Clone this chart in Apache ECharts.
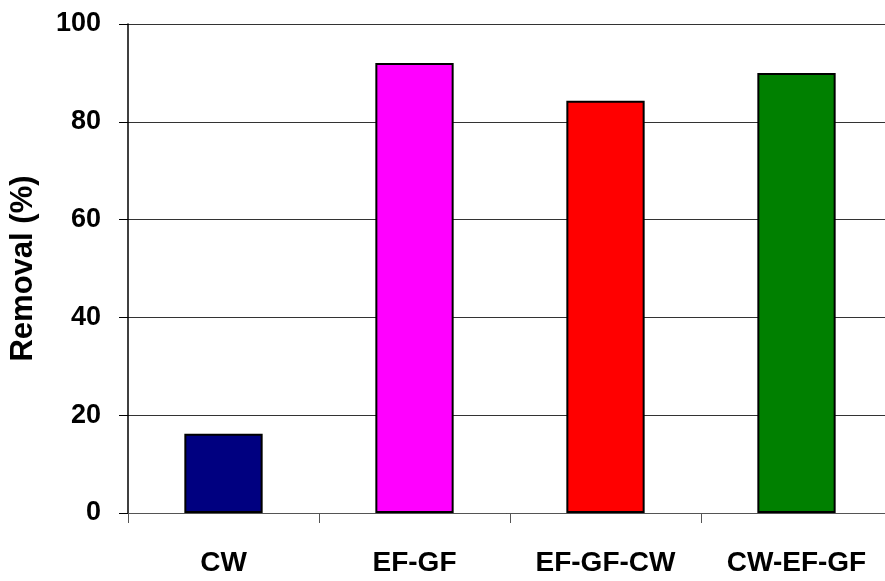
<!DOCTYPE html>
<html>
<head>
<meta charset="utf-8">
<script src="https://cdn.jsdelivr.net/npm/echarts@6/dist/echarts.min.js"></script>
<style>
  html, body { margin: 0; padding: 0; background: #fff; }
  #chart { width: 885px; height: 581px; }
</style>
</head>
<body>
<div id="chart"></div>
<script>
const categories = ['CW', 'EF-GF', 'EF-GF-CW', 'CW-EF-GF']
const removal = [16.2, 92, 84.3, 90]
const barColors = ['#000080', '#ff00ff', '#ff0000', '#008000']
const yTicks = [0, 20, 40, 60, 80, 100]

const chart = echarts.init(document.getElementById('chart'))

chart.setOption({
  animation: false,
  backgroundColor: '#fff',
  grid: {
    left: 128,
    top: 24,
    bottom: 68,
    width: 764,
    containLabel: false,
    outerBoundsMode: 'none'
  },
  xAxis: {
    type: 'category',
    data: categories,
    axisLine: { lineStyle: { color: '#555', width: 1 } },
    axisTick: { show: true, length: 10, alignWithLabel: false, lineStyle: { color: '#555' } },
    axisLabel: {
      margin: 36,
      color: '#000',
      fontFamily: 'Liberation Sans, Arial, sans-serif',
      fontWeight: 'bold',
      fontSize: 28
    }
  },
  yAxis: {
    type: 'value',
    min: yTicks[0],
    max: yTicks[yTicks.length - 1],
    interval: 20,
    name: 'Removal (%)',
    nameLocation: 'middle',
    nameGap: 89,
    nameRotate: 90,
    nameTextStyle: {
      color: '#000',
      fontFamily: 'Liberation Sans, Arial, sans-serif',
      fontWeight: 'bold',
      fontSize: 31
    },
    axisLine: { show: true, lineStyle: { color: '#000', width: 1.5 } },
    axisTick: { show: true, length: 9, lineStyle: { color: '#000' } },
    axisLabel: {
      margin: 27,
      color: '#000',
      fontFamily: 'Liberation Sans, Arial, sans-serif',
      fontWeight: 'bold',
      fontSize: 27
    },
    splitLine: { show: true, lineStyle: { color: '#333', width: 1 } }
  },
  series: [
    {
      type: 'bar',
      barWidth: '41%',
      data: removal.map((v, i) => ({
        value: v,
        itemStyle: { color: barColors[i] }
      })),
      itemStyle: {
        borderColor: '#000',
        borderWidth: 2
      }
    }
  ]
})
</script>
</body>
</html>
